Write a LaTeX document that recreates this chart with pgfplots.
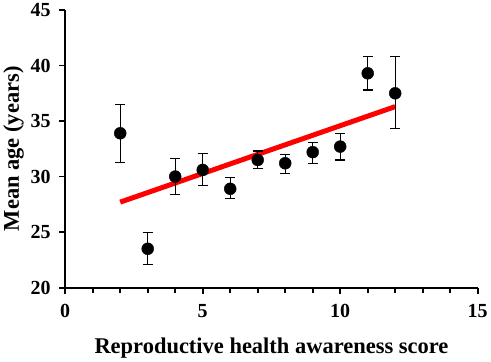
\documentclass[border=0pt]{standalone}
\usepackage{pgfplots}
\pgfplotsset{compat=1.18}
\usepackage{fontspec}
\setmainfont{Liberation Serif}
\begin{document}
\begin{tikzpicture}
\begin{axis}[
 scale only axis, width=413pt, height=278pt,
 xmin=0,xmax=15,ymin=20,ymax=45,
 axis lines=left, axis line style={line width=1.8pt,-},
 xtick={0,5,10,15}, minor xtick={1,...,14},
 ytick={20,25,...,45},
 tick align=outside, major tick length=6pt, minor tick length=5pt,
 tick style={line width=1.8pt, black},
 ticklabel style={font=\fontsize{20}{24}\selectfont\bfseries},
 xticklabel style={yshift=-7pt},
 yticklabel style={xshift=-5pt},
 /pgf/number format/assume math mode=true,
 label style={font=\fontsize{22.5}{26}\selectfont\bfseries},
 xlabel style={yshift=-13pt},
 xlabel={Reproductive health awareness score},
 ylabel={Mean age (years)},
 clip=false,
]
\addplot[red, line width=5pt, no marks] coordinates {(2,27.7) (12,36.3)};
\addplot[only marks, mark=*, mark size=6pt, black,
  error bars/.cd, y dir=both, y explicit,
  error bar style={line width=1.2pt,black},
  error mark options={rotate=90,mark size=5pt,line width=1.2pt,black}]
 table[x=x,y=y,y error plus=ep,y error minus=em] {
x y ep em
2 33.9 2.6 2.6
3 23.5 1.5 1.4
4 30.0 1.6 1.6
5 30.6 1.5 1.4
6 28.9 1.0 0.9
7 31.5 0.8 0.8
8 31.2 0.8 0.9
9 32.2 0.9 1.0
10 32.7 1.2 1.2
11 39.3 1.5 1.5
12 37.5 3.3 3.2
};
\end{axis}
\end{tikzpicture}
\end{document}
